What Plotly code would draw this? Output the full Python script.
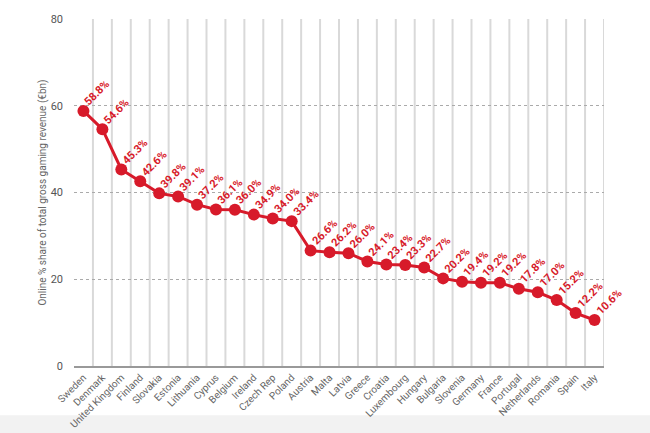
import plotly.graph_objects as go

countries = ["Sweden", "Denmark", "United Kingdom", "Finland", "Slovakia", "Estonia",
             "Lithuania", "Cyprus", "Belgium", "Ireland", "Czech Rep", "Poland",
             "Austria", "Malta", "Latvia", "Greece", "Croatia", "Luxembourg",
             "Hungary", "Bulgaria", "Slovenia", "Germany", "France", "Portugal",
             "Netherlands", "Romania", "Spain", "Italy"]
values = [58.8, 54.6, 45.3, 42.6, 39.8, 39.1, 37.2, 36.1, 36.0, 34.9, 34.0, 33.4,
          26.6, 26.2, 26.0, 24.1, 23.4, 23.3, 22.7, 20.2, 19.4, 19.2, 19.2, 17.8,
          17.0, 15.2, 12.2, 10.6]
y_ticks = [0, 20, 40, 60, 80]

RED = "#d71a2a"
xs = list(range(len(countries)))

fig = go.Figure()

# vertical separators at category boundaries
for i in xs:
    fig.add_shape(type="line", xref="x", yref="paper",
                  x0=i + 0.5, x1=i + 0.5, y0=0, y1=1,
                  line=dict(color="#d9d9d9", width=2), layer="below")

fig.add_trace(go.Scatter(
    x=xs, y=values, mode="lines+markers",
    line=dict(color=RED, width=3),
    marker=dict(color=RED, size=12),
    hoverinfo="skip", showlegend=False,
))

for i, v in zip(xs, values):
    fig.add_annotation(
        x=i, y=v, text=f"{v:.1f}%", showarrow=False,
        textangle=-45, xanchor="center", yanchor="middle",
        xshift=14, yshift=18,
        font=dict(family="Roboto", size=11, color=RED, weight="bold"),
    )

fig.add_shape(type="rect", xref="paper", yref="paper",
              x0=-0.2, x1=1.2, y0=-0.142, y1=-0.3,
              fillcolor="#f2f2f2", line=dict(width=0), layer="below")

fig.update_layout(
    width=650, height=433,
    margin=dict(l=74, r=46, t=19, b=67),
    paper_bgcolor="white", plot_bgcolor="white",
    xaxis=dict(
        range=[-0.5, len(countries) - 0.5], automargin=False,
        tickvals=xs, ticktext=countries, tickangle=-45,
        tickfont=dict(family="Roboto", size=10, color="#666"),
        showgrid=False, zeroline=False,
        showline=True, linecolor="#999", linewidth=1.5,
        ticks="",
    ),
    yaxis=dict(
        range=[0, 80], tickvals=y_ticks, automargin=False,
        tickfont=dict(family="Roboto", size=11, color="#555"),
        showgrid=True, gridcolor="#aaa", griddash="dot", gridwidth=1,
        zeroline=False, ticks="", ticklabelstandoff=10,
        title=dict(text="Online % share of total gross gaming revenue (€bn)",
                   font=dict(family="Roboto", size=10, color="#666"),
                   standoff=2),
    ),
)

fig.write_html("out.html")
